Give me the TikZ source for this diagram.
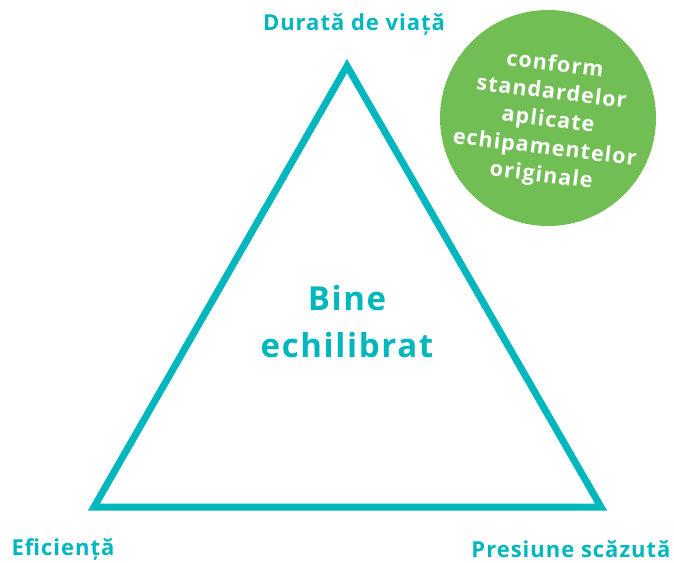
\documentclass[tikz,border=0pt]{standalone}
\usepackage{fontspec}
\setmainfont{Open Sans}
\definecolor{teal}{RGB}{0,183,189}
\definecolor{leafgreen}{RGB}{112,190,84}
\tikzset{
    corner/.style={text=teal, font=\fontsize{22}{24}\selectfont\bfseries\addfontfeatures{LetterSpace=4.5}},
    center/.style={text=teal, align=center, font=\fontsize{33}{47}\selectfont\bfseries\addfontfeatures{LetterSpace=5}},
    badge/.style={text=white, align=center, rotate=-7, font=\fontsize{21.5}{28}\selectfont\bfseries\addfontfeatures{LetterSpace=5}}
}
\begin{document}
\begin{tikzpicture}[x=1pt,y=-1pt]
        \useasboundingbox (0,0) rectangle (674,562);
        \coordinate (top) at (347,66);
        \coordinate (left) at (94,507);
        \coordinate (right) at (601,507);
        \draw[teal, line width=7pt, line join=miter] (top) -- (left) -- (right) -- cycle;

        \fill[leafgreen] (548,118) circle (108);
        \node[badge] (oem) at (548,121) {conform\\standardelor\\aplicate\\echipamentelor\\originale};

        \node[corner] (life) at (354,24) {Durată de viață};
        \node[corner] (eff) at (63,549) {Eficiență};
        \node[corner] (pres) at (571,549) {Presiune scăzută};
        \node[center] (bal) at (347,322) {Bine\\echilibrat};
    \end{tikzpicture}
\end{document}
